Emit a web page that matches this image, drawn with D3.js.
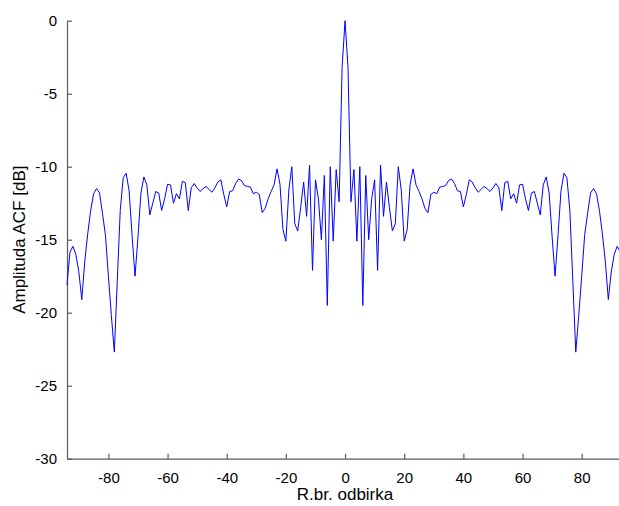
<!DOCTYPE html>
<html>
<head>
<meta charset="utf-8">
<script src="https://cdn.jsdelivr.net/npm/d3@7"></script>
<style>
  body { margin: 0; background: #fff; }
  text { font-family: "Liberation Sans", Arial, sans-serif; }
</style>
</head>
<body>
<div id="chart"></div>
<script>
// lags of the autocorrelation (R.br. odbirka)
var lags = d3.range(-94, 95);

// ACF amplitude in dB
var acf_db = [
  -18.1, -15.85, -15.45, -16.0, -17.2, -19.1, -16.5, -14.6, -13.0, -11.85,
  -11.5, -11.8, -13.2, -14.7, -17.5, -20.2, -22.7, -17.8, -13.0, -10.75,
  -10.45, -11.65, -14.7, -17.5, -14.8, -11.8, -10.7, -11.25, -13.3, -12.5,
  -11.7, -11.8, -13.0, -12.2, -11.2, -11.25, -12.5, -11.85, -12.2, -11.0,
  -11.1, -13.0, -11.45, -11.15, -11.45, -11.7, -11.5, -11.35, -11.55, -11.75,
  -11.45, -11.05, -10.9, -11.9, -12.75, -11.7, -11.65, -11.15, -10.85, -10.95,
  -11.3, -11.35, -11.4, -11.85, -11.75, -11.9, -13.15, -12.85, -12.2, -11.7,
  -11.25, -10.15, -11.2, -14.3, -15.1, -11.6, -10.0, -13.9, -14.4, -12.8,
  -11.05, -13.4, -9.9, -17.1, -10.9, -12.2, -15.0, -10.6, -19.5, -10.0,
  -15.1, -10.2, -12.4, -3.2,
  0,
  -3.2, -12.4, -10.2, -15.1,
  -10.0, -19.5, -10.6, -15.0, -12.2, -10.9, -17.1, -9.9, -13.4, -11.05,
  -12.8, -14.4, -13.9, -10.0, -11.6, -15.1, -14.3, -11.2, -10.15, -11.25,
  -11.7, -12.2, -12.85, -13.15, -11.9, -11.75, -11.85, -11.4, -11.35, -11.3,
  -10.95, -10.85, -11.15, -11.65, -11.7, -12.75, -11.9, -10.9, -11.05, -11.45,
  -11.75, -11.55, -11.35, -11.5, -11.7, -11.45, -11.15, -11.45, -13.0, -11.1,
  -11.0, -12.2, -11.85, -12.5, -11.25, -11.2, -12.2, -13.0, -11.8, -11.7,
  -12.5, -13.3, -11.25, -10.7, -11.8, -14.8, -17.5, -14.7, -11.65, -10.45,
  -10.75, -13.0, -17.8, -22.7, -20.2, -17.5, -14.7, -13.2, -11.8, -11.5,
  -11.85, -13.0, -14.6, -16.5, -19.1, -17.2, -16.0, -15.45, -15.85, -18.1
];

var x_ticks = [-80, -60, -40, -20, 0, 20, 40, 60, 80];
var y_ticks = [0, -5, -10, -15, -20, -25, -30];

var chart_width = 619;
var chart_height = 506;
var plot_left = 67;
var plot_top = 20.7;
var plot_bottom = 458.7;

var svg = d3.select('#chart')
  .append('svg')
  .attr('width', chart_width)
  .attr('height', chart_height);

// scales
var x_scale = d3.scaleLinear()
  .domain([-94, 94])
  .range([plot_left, plot_left + 188 * 2.958]);

var y_scale = d3.scaleLinear()
  .domain([-30, 0])
  .range([plot_bottom, plot_top]);

// plain hyphen for minus, like matlab
var tick_fmt = function(d) { return String(d); };

// axes, ticks pointing inwards
var x_axis = d3.axisBottom(x_scale)
  .tickValues(x_ticks)
  .tickSizeInner(-5)
  .tickSizeOuter(0)
  .tickPadding(14)
  .tickFormat(tick_fmt);

var y_axis = d3.axisLeft(y_scale)
  .tickValues(y_ticks)
  .tickSizeInner(-5)
  .tickSizeOuter(0)
  .tickPadding(10)
  .tickFormat(tick_fmt);

var gx = svg.append('g')
  .attr('transform', 'translate(0,' + plot_bottom + ')')
  .call(x_axis);

var gy = svg.append('g')
  .attr('transform', 'translate(' + plot_left + ',0)')
  .call(y_axis);

[gx, gy].forEach(function(g) {
  g.select('.domain').attr('stroke', '#5a5a5a').attr('stroke-width', 1.2);
  g.selectAll('.tick line').attr('stroke', '#5a5a5a').attr('stroke-width', 1.2);
  g.selectAll('.tick text')
    .attr('fill', '#000')
    .attr('font-size', '15px')
    .attr('font-family', '"Liberation Sans", Arial, sans-serif');
});

// the acf line
var line = d3.line()
  .x(function(d, i) { return x_scale(lags[i]); })
  .y(function(d) { return y_scale(d); });

svg.append('path')
  .datum(acf_db)
  .attr('d', line)
  .attr('fill', 'none')
  .attr('stroke', '#0000ff')
  .attr('stroke-width', 1);

// axis labels
svg.append('text')
  .text('R.br. odbirka')
  .attr('x', x_scale(0))
  .attr('y', 500)
  .attr('text-anchor', 'middle')
  .attr('font-size', '17px')
  .attr('fill', '#000');

svg.append('text')
  .text('Amplituda ACF [dB]')
  .attr('transform', 'translate(25,' + y_scale(-15) + ') rotate(-90)')
  .attr('text-anchor', 'middle')
  .attr('font-size', '17px')
  .attr('fill', '#000');
</script>
</body>
</html>
